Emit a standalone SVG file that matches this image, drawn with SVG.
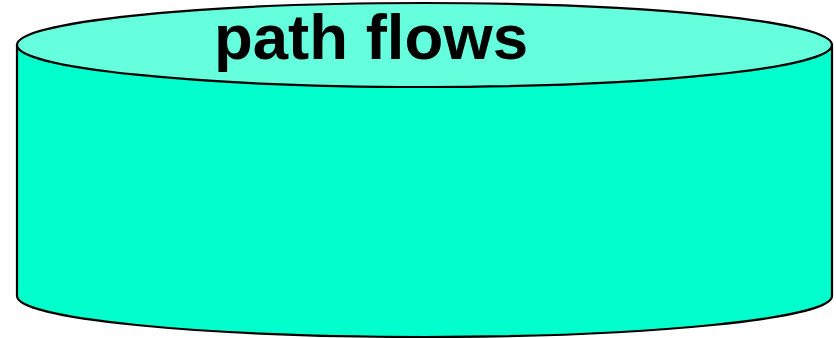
<svg xmlns="http://www.w3.org/2000/svg" width="836" height="338" viewBox="0 0 836 338">
<style>
.body{fill:#00FFCC;stroke:#000;stroke-width:2.2}
.top{fill:#66FFDD;stroke:#000;stroke-width:2.2}
.lbl{font-family:"Liberation Sans",Arial,sans-serif;font-weight:bold;font-size:63.5px;fill:#000}
</style>
<rect width="836" height="338" fill="#fff"/>
<g id="cylinder">
<path class="body" d="M17,45 L17,296 A407.5,41 0 0 0 832,296 L832,45 Z"/>
<ellipse class="top" cx="424.5" cy="45" rx="407.5" ry="42"/>
<text class="lbl" x="214" y="59">path flows</text>
</g>
</svg>
